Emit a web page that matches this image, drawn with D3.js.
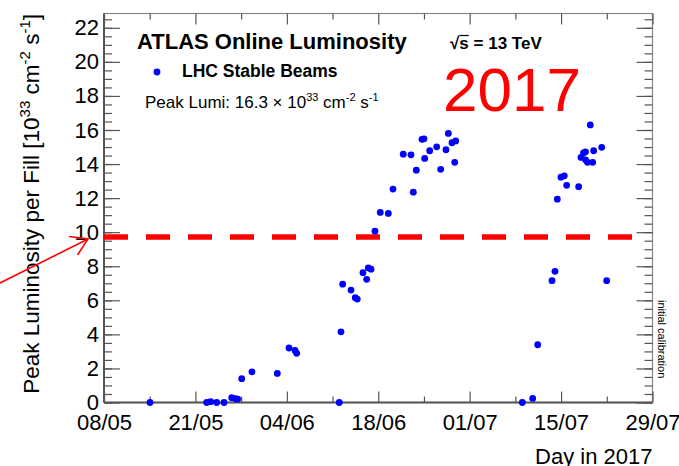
<!DOCTYPE html>
<html>
<head>
<meta charset="utf-8">
<script src="https://cdn.jsdelivr.net/npm/d3@7"></script>
<style>
  html, body { margin: 0; padding: 0; background: #fff; }
  svg { display: block; }
  text { font-family: "Liberation Sans", Arial, Helvetica, sans-serif; fill: #000; }
</style>
</head>
<body>
<svg id="chart" width="679" height="466"></svg>
<script>
// Day offsets counted from the first axis label (08/05)
const fillDays = [
  7.04, 15.73, 16.34, 17.26, 18.38, 19.56, 20.17, 20.47, 21.09, 22.66,
  26.54, 28.33, 29.25, 29.51, 36.03, 36.29, 36.55, 37.83, 38.48, 38.79,
  39.66, 40.23, 40.47, 40.89, 41.50, 42.31, 43.54, 44.26, 45.83, 47.01,
  47.37, 47.83, 48.70, 49.00, 49.11, 49.88, 50.95, 51.56, 52.37, 52.73,
  53.29, 53.71, 53.86, 64.06, 65.65, 66.42, 68.61, 69.07, 69.42, 69.98,
  70.49, 70.86, 72.69, 73.05, 73.43, 73.74, 73.74, 74.04, 74.47, 74.84,
  74.99, 76.22, 76.98
];
// Peak luminosity per fill [10^33 cm^-2 s^-1]
const peakLumi = [
  0.00, 0.00, 0.05, 0.00, 0.00, 0.28, 0.22, 0.20, 1.40, 1.80,
  1.71, 3.20, 3.06, 2.89, 0.00, 4.15, 6.95, 6.60, 6.15, 6.07,
  7.62, 7.23, 7.91, 7.83, 10.06, 11.16, 11.10, 12.53, 14.58, 14.54,
  12.35, 13.64, 15.45, 15.48, 14.33, 14.78, 15.01, 13.69, 14.84, 15.80,
  15.25, 14.10, 15.36, 0.00, 0.24, 3.39, 7.15, 7.70, 11.94, 13.23,
  13.31, 12.75, 12.67, 14.39, 14.65, 14.72, 14.25, 14.10, 16.30, 14.10,
  14.78, 14.98, 7.15
];
const xTickDays = [0, 14, 28, 42, 56, 70, 84];
const xTickLabels = ["08/05", "21/05", "04/06", "18/06", "01/07", "15/07", "29/07"];
const yTicks = [0, 2, 4, 6, 8, 10, 12, 14, 16, 18, 20, 22];
const referenceLevel = 9.72;
const peakValue = 16.3;

const margin = { top: 13.5, right: 26.5, bottom: 63.5, left: 104 };
const W = 679, H = 466;
const iw = W - margin.left - margin.right;
const ih = H - margin.top - margin.bottom;

const svg = d3.select("#chart");
const g = svg.append("g").attr("transform", `translate(${margin.left},${margin.top})`);

const x = d3.scaleLinear().domain([0, 84]).range([0, iw]);
const y = d3.scaleLinear().domain([0, 22.84]).range([ih, 0]);

// frame (top and right edges)
g.append("rect").attr("x", 0).attr("y", 0).attr("width", iw).attr("height", ih)
  .attr("fill", "none").attr("stroke", "#888").attr("stroke-width", 1.2);

const axisColor = "#555";
function styleAxis(sel, w) {
  sel.select(".domain").remove();
  sel.selectAll(".tick line").attr("stroke", axisColor).attr("stroke-width", w || 1.2);
}
function styleLabels(sel) {
  sel.selectAll("text").attr("font-size", 22).attr("fill", "#000")
    .attr("font-family", "'Liberation Sans', Arial, sans-serif");
}

// y minor ticks (left and right)
const yMinor = d3.range(0, 22.6, 0.5);
g.append("g").call(d3.axisLeft(y).tickValues(yMinor).tickSizeInner(-8).tickFormat(""))
  .call(styleAxis);
g.append("g").attr("transform", `translate(${iw},0)`)
  .call(d3.axisRight(y).tickValues(yMinor).tickSizeInner(-8).tickFormat(""))
  .call(styleAxis);
// y major ticks
g.append("g").call(d3.axisLeft(y).tickValues(yTicks).tickSizeInner(-16).tickPadding(5).tickFormat(d3.format("d")))
  .call(styleAxis)
  .call(styleLabels);
g.append("g").attr("transform", `translate(${iw},0)`)
  .call(d3.axisRight(y).tickValues(yTicks).tickSizeInner(-16).tickFormat(""))
  .call(styleAxis);

// x ticks: midpoints (minor) and labelled majors
const xMinor = d3.range(7, 84, 14);
g.append("g").attr("transform", `translate(0,${ih})`)
  .call(d3.axisBottom(x).tickValues(xMinor).tickSizeInner(-6).tickFormat(""))
  .call(styleAxis);
g.append("g")
  .call(d3.axisTop(x).tickValues(xMinor).tickSizeInner(-6).tickFormat(""))
  .call(styleAxis);
g.append("g").attr("transform", `translate(0,${ih})`)
  .call(d3.axisBottom(x).tickValues(xTickDays).tickSizeInner(-11).tickPadding(12)
    .tickFormat((d, i) => xTickLabels[i]))
  .call(styleAxis)
  .call(styleLabels);
g.append("g")
  .call(d3.axisTop(x).tickValues(xTickDays).tickSizeInner(-11).tickFormat(""))
  .call(styleAxis);

// thick left / bottom axis lines
g.append("line").attr("x1", 0).attr("x2", 0).attr("y1", 0).attr("y2", ih)
  .attr("stroke", axisColor).attr("stroke-width", 2);
g.append("line").attr("x1", 0).attr("x2", iw).attr("y1", ih).attr("y2", ih)
  .attr("stroke", axisColor).attr("stroke-width", 2);

// dashed reference level
g.append("line")
  .attr("x1", 0).attr("x2", x(81.6))
  .attr("y1", y(referenceLevel)).attr("y2", y(referenceLevel))
  .attr("stroke", "#ff0000").attr("stroke-width", 5.5)
  .attr("stroke-dasharray", "24,18");

// data points
g.append("g").selectAll("circle")
  .data(fillDays.map((d, i) => ({ day: d, lumi: peakLumi[i] })))
  .join("circle")
  .attr("cx", d => x(d.day))
  .attr("cy", d => y(d.lumi))
  .attr("r", 3.4)
  .attr("fill", "#0000ff");

// axis titles
svg.append("text")
  .attr("transform", "translate(39,14) rotate(-90)")
  .attr("text-anchor", "end")
  .attr("font-size", 22.5)
  .html('Peak Luminosity per Fill [10<tspan dy="-9" font-size="15">33</tspan><tspan dy="9"> cm</tspan><tspan dy="-9" font-size="15">-2</tspan><tspan dy="9"> s</tspan><tspan dy="-9" font-size="15">-1</tspan><tspan dy="9">]</tspan>');

svg.append("text")
  .attr("x", margin.left + iw).attr("y", 464)
  .attr("text-anchor", "end")
  .attr("font-size", 22)
  .text("Day in 2017");

svg.append("text")
  .attr("transform", `translate(${margin.left + iw + 5},300) rotate(90)`)
  .attr("font-size", 11)
  .attr("fill", "#333")
  .text("initial calibration");

// labels inside the frame
svg.append("text").attr("x", 137).attr("y", 49)
  .attr("font-size", 22).attr("font-weight", "bold")
  .text("ATLAS Online Luminosity");

const sqrtText = svg.append("text").attr("x", 450).attr("y", 49)
  .attr("font-size", 17).attr("font-weight", "bold");
sqrtText.append("tspan").text("\u221A");
sqrtText.append("tspan").attr("id", "sqrt-s").text("s");
sqrtText.append("tspan").text(" = 13 TeV");
const sBox = document.getElementById("sqrt-s").getBBox();
svg.append("line")
  .attr("x1", sBox.x).attr("x2", sBox.x + sBox.width)
  .attr("y1", sBox.y + 1.5).attr("y2", sBox.y + 1.5)
  .attr("stroke", "#000").attr("stroke-width", 1.2);

svg.append("circle").attr("cx", 157).attr("cy", 72).attr("r", 3.4).attr("fill", "#0000ff");
svg.append("text").attr("x", 182).attr("y", 77)
  .attr("font-size", 17.5).attr("font-weight", "bold")
  .text("LHC Stable Beams");

svg.append("text").attr("x", 145).attr("y", 108)
  .attr("font-size", 17)
  .html(`Peak Lumi: ${peakValue.toFixed(1)} \u00D7 10<tspan dy="-7" font-size="11">33</tspan><tspan dy="7"> cm</tspan><tspan dy="-7" font-size="11">-2</tspan><tspan dy="7"> s</tspan><tspan dy="-7" font-size="11">-1</tspan>`);

svg.append("text").attr("x", 443).attr("y", 111)
  .attr("font-size", 62)
  .attr("font-family", "'Noto Sans', 'Open Sans', sans-serif")
  .style("fill", "#ff0000")
  .text("2017");

// red arrow pointing at the reference level
const arrow = svg.append("g").attr("stroke", "#ff0000").attr("stroke-width", 1.6).attr("fill", "none");
arrow.append("line").attr("x1", 0).attr("y1", 283).attr("x2", 88).attr("y2", 239);
arrow.append("polyline").attr("points", "69,236.5 88,239 77.5,255");
</script>
</body>
</html>
